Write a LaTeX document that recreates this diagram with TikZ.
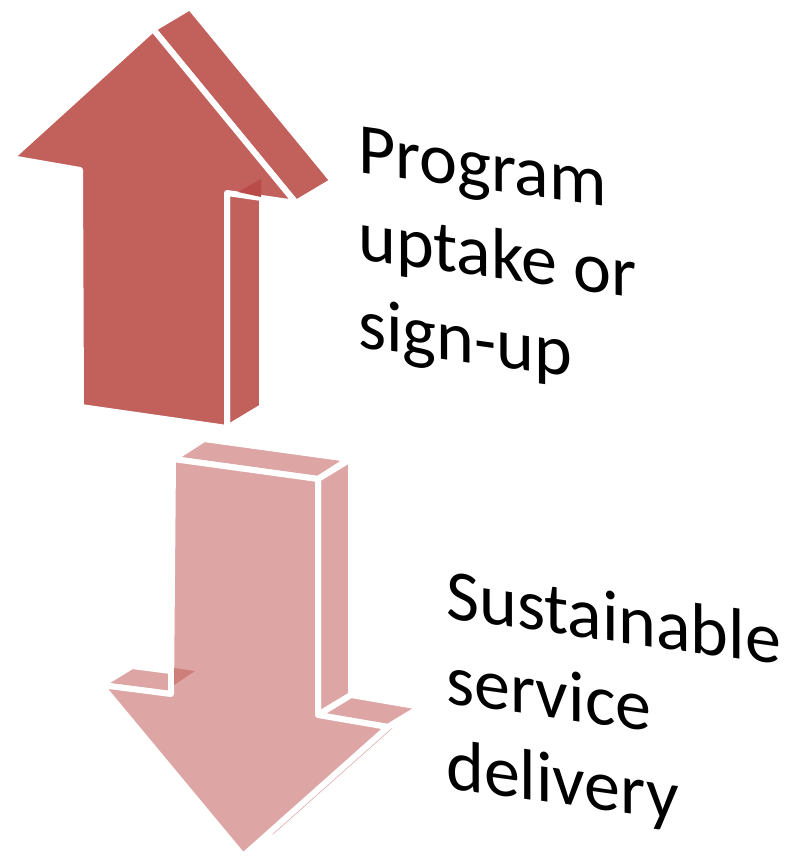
\documentclass[tikz,border=0pt]{standalone}
\usepackage{fontspec}
\setmainfont{Carlito}
\usetikzlibrary{calc}
\definecolor{upc}{HTML}{C2605C}
\definecolor{updark}{HTML}{B94C48}
\definecolor{dnc}{HTML}{DDA6A5}
\definecolor{dndark}{HTML}{CE7E7B}
\tikzset{
  upface/.style={fill=upc, draw=white, line width=6pt, line join=round},
  dnface/.style={fill=dnc, draw=white, line width=6pt, line join=round},
  lbl/.style={anchor=base west, inner sep=0pt, transform shape, font=\fontsize{72}{88}\selectfont}
}
\begin{document}
\begin{tikzpicture}[x=1pt,y=-1pt]
\useasboundingbox (0,0) rectangle (789,856);
% ---------- up arrow ----------
\coordinate (uT) at (153,29);
\coordinate (uL) at (11,158);
\coordinate (uLN) at (80,170);
\coordinate (uBL) at (81,407);
\coordinate (uBR) at (227,428);
\coordinate (uRN) at (227,193);
\coordinate (uR) at (296,203);
% shaft right side
\path[upface] (uRN) -- (uBR) -- ($(uBR)+(35,-21)$) -- ($(uRN)+(35,-21)$) -- cycle;
% head slope side
\path[upface] (uT) -- (uR) -- ($(uR)+(37,-22)$) -- ($(uT)+(37,-22)$) -- cycle;
% front face
\path[upface] (uT) -- (uL) -- (uLN) -- (uBL) -- (uBR) -- (uRN) -- (uR) -- cycle;
\fill[updark] (238,192) -- (261,179) -- (261,197) -- cycle;
% ---------- down arrow ----------
\coordinate (dA) at (173,459);
\coordinate (dB) at (318,479);
\coordinate (dC) at (318,715);
\coordinate (dR) at (388,727);
\coordinate (dT) at (243,856);
\coordinate (dL) at (101,685);
\coordinate (dLN) at (171,694);
\path[dnface] (dL) -- (dLN) -- ($(dLN)+(31,-19)$) -- ($(dL)+(31,-19)$) -- cycle;
\path[dnface] (dA) -- (dB) -- ($(dB)+(31,-20)$) -- ($(dA)+(31,-20)$) -- cycle;
\path[dnface] (dB) -- (dC) -- ($(dC)+(33,-20)$) -- ($(dB)+(33,-20)$) -- cycle;
\path[dnface] (dC) -- (dR) -- ($(dR)+(33,-20)$) -- ($(dC)+(33,-20)$) -- cycle;
\path[dnface] (dR) -- (dT) -- ($(dT)+(33,-20)$) -- ($(dR)+(33,-20)$) -- cycle;
\path[dnface] (dA) -- (dB) -- (dC) -- (dR) -- (dT) -- (dL) -- (dLN) -- cycle;
\fill[dndark] (174,668) -- (195,671) -- (174,685) -- cycle;
% ---------- labels ----------
\begin{scope}[shift={(358,172)}, yslant=-0.14]
  \node[lbl] (t1a) at (0,0) {Program};
  \node[lbl] (t1b) at (0,87) {uptake or};
  \node[lbl] (t1c) at (0,175) {sign-up};
\end{scope}
\begin{scope}[shift={(446,618)}, yslant=-0.14]
  \node[lbl] (t2a) at (0,0) {Sustainable};
  \node[lbl] (t2b) at (0,85) {service};
  \node[lbl] (t2c) at (0,170) {delivery};
\end{scope}
\end{tikzpicture}
\end{document}
